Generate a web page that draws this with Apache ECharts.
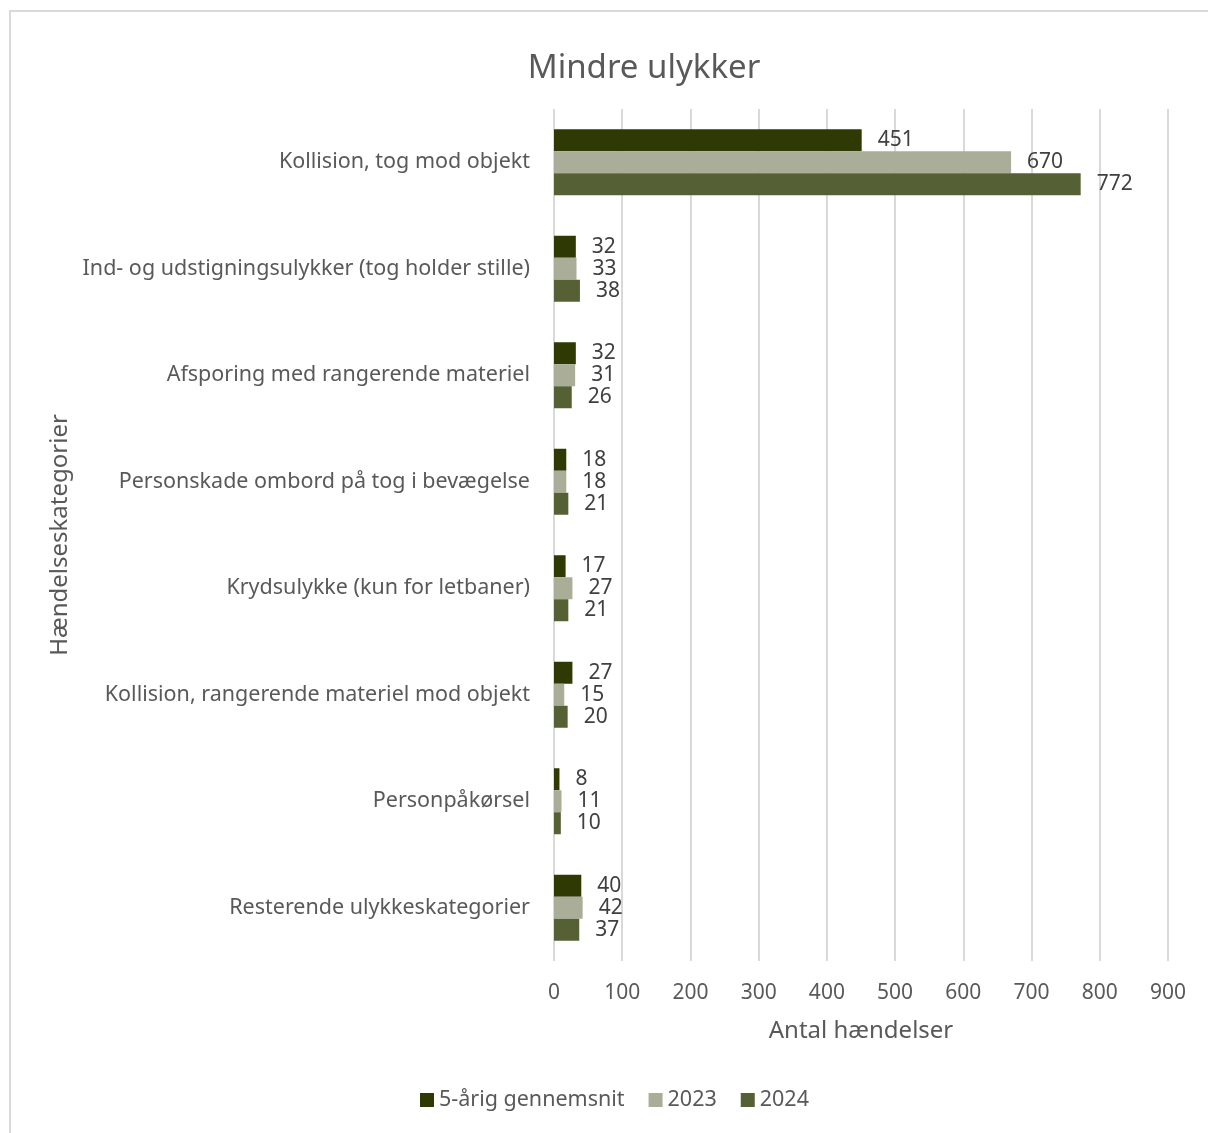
<!DOCTYPE html>
<html>
<head>
<meta charset="utf-8">
<script src="https://cdn.jsdelivr.net/npm/echarts@6/dist/echarts.min.js"></script>
<style>
  html, body { margin: 0; padding: 0; background: #fff; }
  #frame { position: absolute; left: 9px; top: 10px; width: 1210px; height: 1140px; border: 2px solid #d9d9d9; box-sizing: border-box; }
  #chart { position: absolute; left: 0; top: 0; width: 1208px; height: 1133px; }
</style>
</head>
<body>
<div id="frame"></div>
<div id="chart"></div>
<script>
const categories = [
  'Kollision, tog mod objekt',
  'Ind- og udstigningsulykker (tog holder stille)',
  'Afsporing med rangerende materiel',
  'Personskade ombord på tog i bevægelse',
  'Krydsulykke (kun for letbaner)',
  'Kollision, rangerende materiel mod objekt',
  'Personpåkørsel',
  'Resterende ulykkeskategorier'
];
const avg5 = [451, 32, 32, 18, 17, 27, 8, 40];
const y2023 = [670, 33, 31, 18, 27, 15, 11, 42];
const y2024 = [772, 38, 26, 21, 21, 20, 10, 37];
const seriesNames = ['5-årig gennemsnit', '2023', '2024'];
const colors = ['#2e3904', '#aaad98', '#556035'];

const FONT = 'Noto Sans';
const TXT = '#595959';

const chart = echarts.init(document.getElementById('chart'), null, { renderer: 'canvas' });

const mkSeries = (name, data, color) => ({
  name, type: 'bar', data,
  barWidth: 22, barGap: '0%',
  itemStyle: { color },
  label: {
    show: true, position: 'right', distance: 16,
    color: '#404040', fontFamily: FONT, fontSize: 21
  }
});

chart.setOption({
  animation: false,
  textStyle: { fontFamily: FONT },
  title: {
    text: 'Mindre ulykker', left: 639, top: 47, textAlign: 'center',
    textStyle: { fontFamily: FONT, fontSize: 33, fontWeight: 'normal', color: TXT }
  },
  legend: {
    bottom: 17, left: 415, itemWidth: 14, itemHeight: 14, itemGap: 24,
    icon: 'rect',
    textStyle: { fontFamily: FONT, fontSize: 21.5, color: TXT },
    data: seriesNames
  },
  grid: { left: 554, right: 40, top: 109, bottom: 172, containLabel: false },
  xAxis: {
    type: 'value', min: 0, max: 900, interval: 100,
    name: 'Antal hændelser', nameLocation: 'middle', nameGap: 58,
    nameTextStyle: { fontFamily: FONT, fontSize: 24, color: TXT },
    axisLine: { show: false }, axisTick: { show: false },
    axisLabel: { fontFamily: FONT, fontSize: 21, color: TXT, margin: 22 },
    splitLine: { show: true, lineStyle: { color: '#d9d9d9', width: 2 } }
  },
  yAxis: {
    type: 'category', data: categories, inverse: true,
    name: 'Hændelseskategorier', nameLocation: 'middle', nameGap: 480,
    nameTextStyle: { fontFamily: FONT, fontSize: 24, color: TXT },
    axisLine: { show: false }, axisTick: { show: false },
    axisLabel: { fontFamily: FONT, fontSize: 21.5, color: TXT, margin: 24 }
  },
  series: [
    mkSeries(seriesNames[0], avg5, colors[0]),
    mkSeries(seriesNames[1], y2023, colors[1]),
    mkSeries(seriesNames[2], y2024, colors[2])
  ]
});
</script>
</body>
</html>
